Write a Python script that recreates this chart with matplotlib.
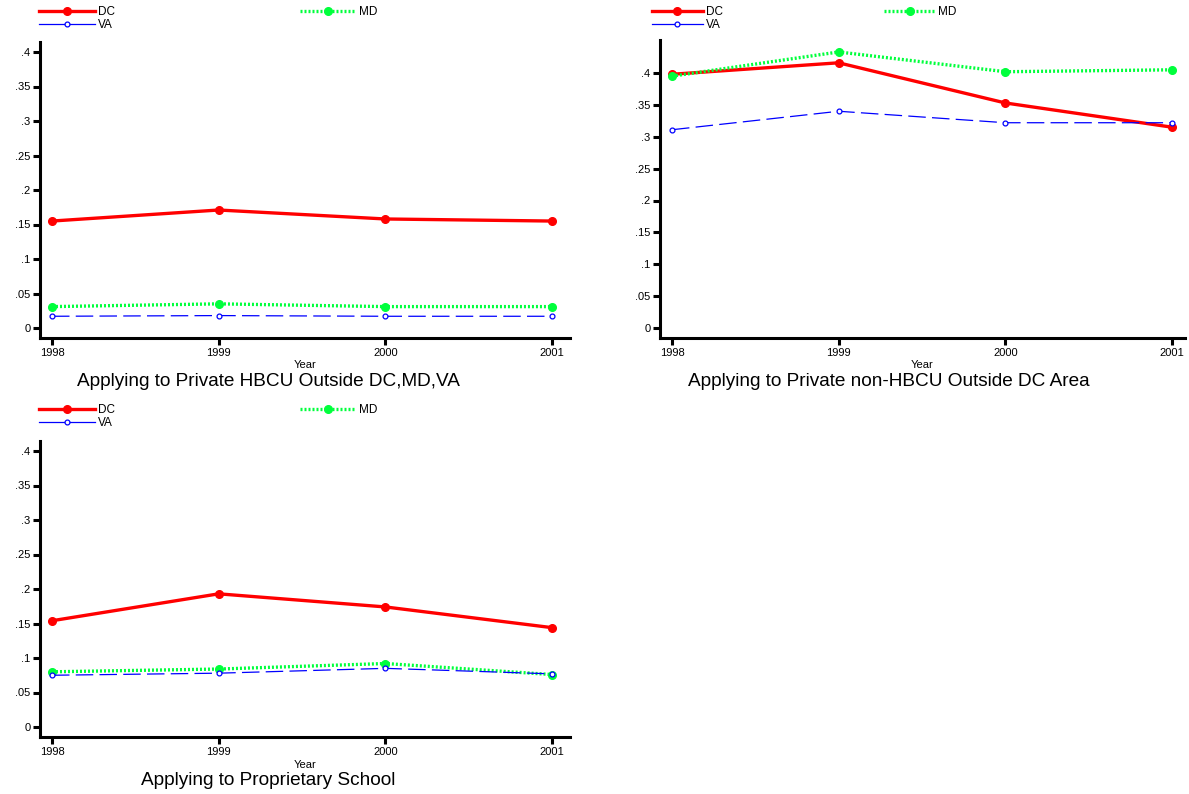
import numpy as np
import matplotlib.pyplot as plt
from matplotlib.lines import Line2D
from matplotlib.ticker import FuncFormatter

years = [1998, 1999, 2000, 2001]

# panel 1: Private HBCU outside DC, MD, VA
hbcu_dc = [0.155, 0.171, 0.158, 0.155]
hbcu_md = [0.031, 0.035, 0.031, 0.031]
hbcu_va = [0.017, 0.018, 0.017, 0.017]

# panel 2: Private non-HBCU outside DC area
nonhbcu_dc = [0.398, 0.416, 0.353, 0.315]
nonhbcu_md = [0.395, 0.433, 0.402, 0.405]
nonhbcu_va = [0.311, 0.340, 0.322, 0.322]

# panel 3: Proprietary school
prop_dc = [0.154, 0.193, 0.174, 0.144]
prop_md = [0.080, 0.084, 0.092, 0.076]
prop_va = [0.075, 0.078, 0.085, 0.077]

titles = ["Applying to Private HBCU Outside DC,MD,VA",
          "Applying to Private non-HBCU Outside DC Area",
          "Applying to Proprietary School"]
yticks = [0, 0.05, 0.1, 0.15, 0.2, 0.25, 0.3, 0.35, 0.4]

W, H = 1189, 794
fig = plt.figure(figsize=(W / 100, H / 100), dpi=100)
plt.rcParams['font.family'] = ['Liberation Sans', 'DejaVu Sans']

RED, GREEN, BLUE = '#ff0000', '#00ff3c', '#0000ff'


def stata_fmt(v, pos):
    if abs(v) < 1e-9:
        return "0"
    return f"{v:.2f}".rstrip("0").lstrip("0")


def px_axes(left, bottom_y, right, top_y):
    # pixel box (top-left origin) -> figure fraction
    return fig.add_axes([left / W, 1 - bottom_y / H,
                         (right - left) / W, (bottom_y - top_y) / H])


def panel(ax, dc, md, va, title, ylim, xlim, leg_xy, title_x, colsp, hlen):
    ax.plot(years, dc, color=RED, lw=2.4, marker='o', ms=5.5)
    ax.plot(years, md, color=GREEN, lw=2.4, ls=(0, (0.6, 0.6)),
            marker='o', ms=5.5)
    ax.plot(years, va, color=BLUE, lw=0.9, ls=(0, (14, 5)),
            marker='o', ms=3.5, mfc='white', mew=0.9)
    ax.set_xlim(*xlim)
    ax.set_ylim(*ylim)
    ax.set_xticks(years)
    ax.set_yticks(yticks)
    ax.yaxis.set_major_formatter(FuncFormatter(stata_fmt))
    for s in ['top', 'right']:
        ax.spines[s].set_visible(False)
    for s in ['left', 'bottom']:
        ax.spines[s].set_linewidth(2.2)
    ax.tick_params(width=2.2, length=5, labelsize=8, pad=2)
    ax.set_xlabel('Year', fontsize=8, labelpad=2)

    # legend keys: VA shown with a plain line like the original
    h_dc = Line2D([], [], color=RED, lw=2.4, marker='o', ms=5.5)
    h_md = Line2D([], [], color=GREEN, lw=2.4, ls=(0, (0.6, 0.6)),
                  marker='o', ms=5.5)
    h_va = Line2D([], [], color=BLUE, lw=0.9, marker='o', ms=3.5,
                  mfc='white', mew=0.9)
    ax.legend(handles=[h_dc, h_va, h_md], labels=['DC', 'VA', 'MD'],
              ncol=2, loc='lower left',
              bbox_to_anchor=(leg_xy[0] / W, 1 - leg_xy[1] / H),
              bbox_transform=fig.transFigure, frameon=False, fontsize=8.5,
              handlelength=hlen, handletextpad=0.25, columnspacing=colsp,
              labelspacing=0.05, borderaxespad=0, borderpad=0)
    fig.text(title_x / W, 1 - title[1] / H, title[0], ha='center',
             va='baseline', fontsize=13.7)


ax1 = px_axes(40, 338, 570, 42)
panel(ax1, hbcu_dc, hbcu_md, hbcu_va, (titles[0], 386),
      (-10 / 690, 286 / 690), (1998 - 12 / 166.7, 2001 + 18 / 166.7),
      (39, 31), 268, 15.7, 4.75)

ax2 = px_axes(660, 338, 1185, 40)
panel(ax2, nonhbcu_dc, nonhbcu_md, nonhbcu_va, (titles[1], 386),
      (-10 / 637.5, 288 / 637.5), (1998 - 12 / 166.7, 2001 + 13 / 166.7),
      (652, 31), 889, 13.7, 4.3)

ax3 = px_axes(40, 737, 570, 441)
panel(ax3, prop_dc, prop_md, prop_va, (titles[2], 785),
      (-10 / 690, 286 / 690), (1998 - 12 / 166.7, 2001 + 18 / 166.7),
      (39, 429), 268, 15.7, 4.75)

fig.savefig('out.png', dpi=100)
